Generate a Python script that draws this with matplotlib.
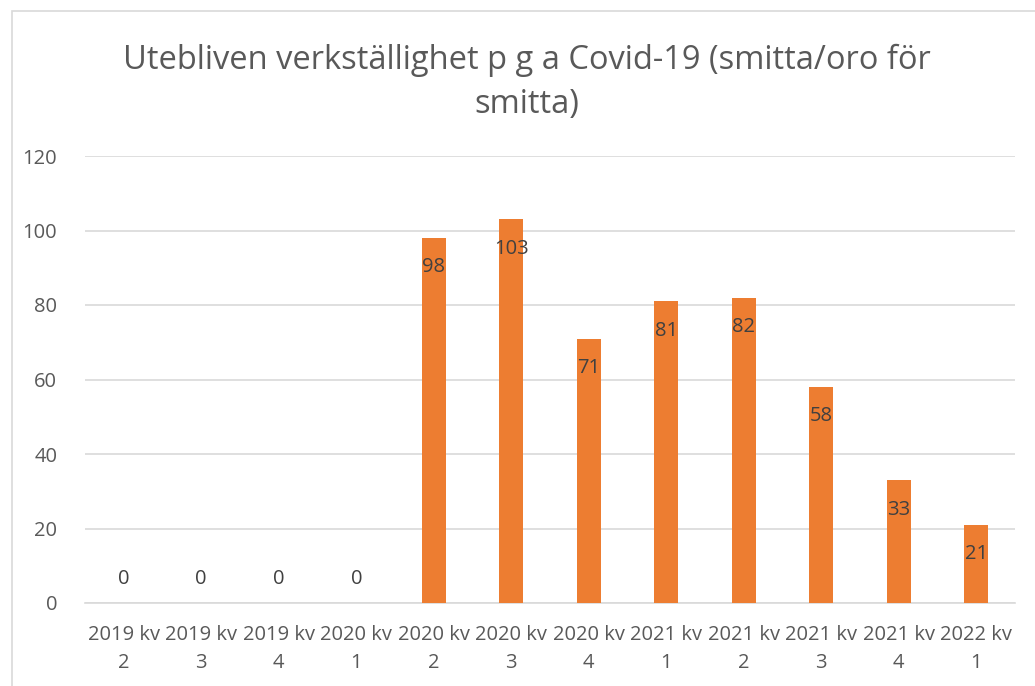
import matplotlib
matplotlib.use("Agg")
import matplotlib.pyplot as plt
from matplotlib.patches import Rectangle

categories = ["2019 kv\n2", "2019 kv\n3", "2019 kv\n4", "2020 kv\n1", "2020 kv\n2", "2020 kv\n3",
              "2020 kv\n4", "2021 kv\n1", "2021 kv\n2", "2021 kv\n3", "2021 kv\n4", "2022 kv\n1"]
values = [0, 0, 0, 0, 98, 103, 71, 81, 82, 58, 33, 21]
yticks = [0, 20, 40, 60, 80, 100, 120]
title = "Utebliven verkställighet p g a Covid-19 (smitta/oro för\nsmitta)"

plt.rcParams['font.family'] = ['Open Sans', 'DejaVu Sans']
W, H = 1035, 686
fig = plt.figure(figsize=(W/100, H/100), dpi=100)
ax = fig.add_axes([85/W, 1-603/H, 930/W, 447/H])

x = list(range(len(categories)))
ax.bar(x, values, width=0.31, color="#ED7D31", zorder=3)
ax.set_xlim(-0.5, len(categories)-0.5)
ax.set_ylim(0, 120)
ax.set_yticks(yticks)
ax.set_xticks(x)
ax.set_xticklabels(categories, fontsize=14.5, color="#595959", linespacing=1.55)
ax.tick_params(axis='y', labelsize=14.5, labelcolor="#595959", length=0, pad=20)
ax.tick_params(axis='x', length=0, pad=16)
ax.grid(axis='y', color="#D9D9D9", linewidth=1.2, zorder=0)
for s in ['top', 'right', 'left']:
    ax.spines[s].set_visible(False)
ax.spines['bottom'].set_color("#D9D9D9")
ax.spines['bottom'].set_linewidth(1.2)

for xi, v in zip(x, values):
    if v == 0:
        ax.annotate(str(v), (xi, v), xytext=(0, 10), textcoords='offset points',
                    ha='center', va='bottom', fontsize=14.5, color="#404040")
    else:
        ax.annotate(str(v), (xi, v), xytext=(0, -14), textcoords='offset points',
                    ha='center', va='top', fontsize=14.5, color="#404040")

fig.text(527/W, 1-44/H, title, ha='center', va='top', fontsize=23.5, color="#595959",
         linespacing=1.45)

fig.patches.append(Rectangle((12/W, -0.01), (W-12)/W + 0.02, 1-11/H + 0.01, transform=fig.transFigure,
                             fill=False, edgecolor="#D9D9D9", linewidth=1.2))

fig.savefig("out.png", dpi=100)
